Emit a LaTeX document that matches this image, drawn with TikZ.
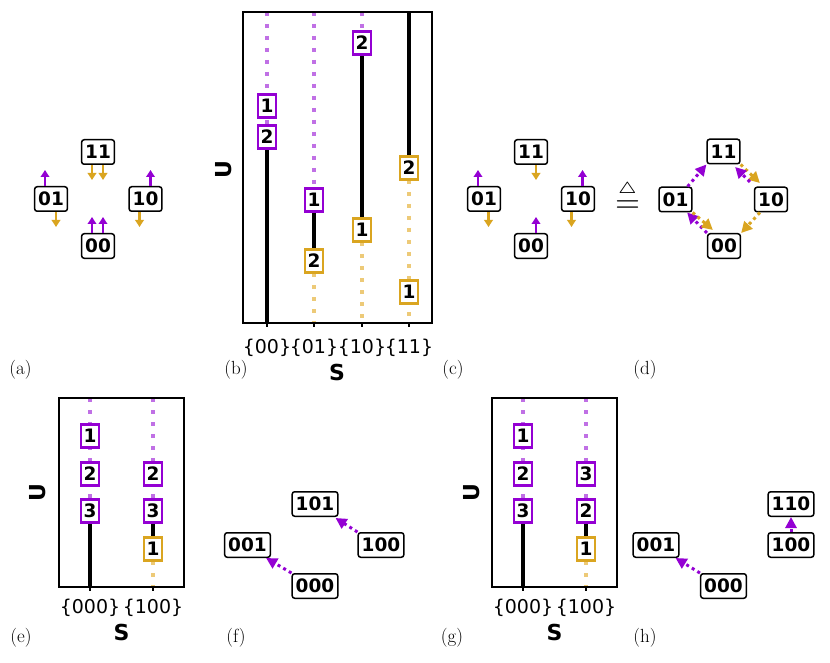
\documentclass[tikz,border=0pt]{standalone}
\usepackage{amssymb}
\usepackage{graphicx}
\usepackage{fontspec}
\usetikzlibrary{arrows.meta,calc}
\newfontfamily\dvfont{DejaVu Sans}
\definecolor{pur}{HTML}{9400D3}
\definecolor{org}{HTML}{DAA520}
\definecolor{lpur}{HTML}{C070E5}
\definecolor{lorg}{HTML}{EDCA78}
\pgfdeclarelayer{back}
\pgfdeclarelayer{bg}
\pgfsetlayers{back,bg,main}
\begin{document}
\begin{tikzpicture}[x=1pt,y=-1pt,
  state/.style={draw, rounded corners=2.5pt, line width=1.5pt, fill=white, minimum height=24.5pt, inner xsep=3.5pt, inner ysep=0pt, font=\dvfont\bfseries\fontsize{18.5}{18.5}\selectfont},
  nbox/.style={draw=#1, line width=2.8pt, fill=white, minimum width=18pt, minimum height=23pt, inner sep=0pt, font=\dvfont\bfseries\fontsize{18.5}{18.5}\selectfont},
  parr/.style={pur, line width=2.8pt, -{Triangle[length=7pt,width=8.5pt]}},
  oarr/.style={org, line width=2.8pt, -{Triangle[length=7pt,width=8.5pt]}},
  pconn/.style={pur, line width=3pt, dash pattern=on 3pt off 3.5pt, -{Triangle[length=11pt,width=11pt]}},
  oconn/.style={org, line width=3pt, dash pattern=on 3pt off 3.5pt, -{Triangle[length=11pt,width=11pt]}},
  blk/.style={line width=4pt, black},
  pdl/.style={lpur, line width=4pt, dash pattern=on 4pt off 8pt},
  odl/.style={lorg, line width=4pt, dash pattern=on 4pt off 8pt},
  frame/.style={line width=1.2pt, black},
  ticklab/.style={font=\dvfont\fontsize{19}{19}\selectfont},
  axlab/.style={font=\dvfont\bfseries\fontsize{22}{22}\selectfont},
  plab/.style={font=\fontsize{19}{20}\selectfont}
]
\useasboundingbox (0,0) rectangle (830,663);
\begin{pgfonlayer}{back}
\fill[white] (0,0) rectangle (830,663);
\end{pgfonlayer}

% ---------- (a)
\node[state] (a11) at (98,152) {11};
\node[state] (a01) at (51,199) {01};
\node[state] (a10) at (145.5,199) {10};
\node[state] (a00) at (98,246) {00};
\draw[oarr] ([xshift=-6pt]a11.south) -- ++(0,15);
\draw[oarr] ([xshift=5pt]a11.south) -- ++(0,15);
\draw[parr] ([xshift=-6pt]a00.north) -- ++(0,-16);
\draw[parr] ([xshift=5pt]a00.north) -- ++(0,-16);
\draw[parr] ([xshift=-6pt]a01.north) -- ++(0,-16);
\draw[oarr] ([xshift=5pt]a01.south) -- ++(0,15);
\draw[parr] ([xshift=5pt]a10.north) -- ++(0,-16);
\draw[oarr] ([xshift=-6pt]a10.south) -- ++(0,15);
\node[plab] (la) at (20.5,370) {(a)};

% ---------- (b)
\draw[frame] (243,12) rectangle (432,323);
\foreach \x in {267,314,362,409} \draw[frame] (\x,323) -- ++(0,3.5);
\coordinate (b0t) at (267,12); \coordinate (b0b) at (267,323);
\coordinate (b1t) at (314,12); \coordinate (b1b) at (314,323);
\coordinate (b2t) at (362,12); \coordinate (b2b) at (362,323);
\coordinate (b3t) at (409,12); \coordinate (b3b) at (409,323);
\node[nbox=pur] (b0p1) at (267,106) {1};
\node[nbox=pur] (b0p2) at (267,137) {2};
\node[nbox=pur] (b1p1) at (314,200) {1};
\node[nbox=org] (b1o2) at (314,261) {2};
\node[nbox=pur] (b2p2) at (362,43) {2};
\node[nbox=org] (b2o1) at (362,230) {1};
\node[nbox=org] (b3o2) at (409,168) {2};
\node[nbox=org] (b3o1) at (409,292) {1};
\begin{pgfonlayer}{bg}
\draw[pdl] (b0t) -- (b0p2.center);
\draw[blk] (b0p2.center) -- (b0b);
\draw[pdl] (b1t) -- (b1p1.center);
\draw[blk] (b1p1.center) -- (b1o2.center);
\draw[odl] (b1o2.center) -- (b1b);
\draw[pdl] (b2t) -- (b2p2.center);
\draw[blk] (b2p2.center) -- (b2o1.center);
\draw[odl] (b2o1.center) -- (b2b);
\draw[blk] (b3t) -- (b3o2.center);
\draw[odl] (b3o2.center) -- (b3b);
\end{pgfonlayer}
\node[ticklab] (tb0) at (267,348) {\{00\}};
\node[ticklab] (tb1) at (314,348) {\{01\}};
\node[ticklab] (tb2) at (362,348) {\{10\}};
\node[ticklab] (tb3) at (409,348) {\{11\}};
\node[axlab] (bS) at (337,372) {S};
\node[axlab, rotate=90] (bU) at (224,170) {U};
\node[plab] (lb) at (236,370) {(b)};

% ---------- (c)
\node[state] (c11) at (531,152) {11};
\node[state] (c01) at (484,199) {01};
\node[state] (c10) at (578,199) {10};
\node[state] (c00) at (531,246) {00};
\draw[oarr] ([xshift=5pt]c11.south) -- ++(0,15);
\draw[parr] ([xshift=5pt]c00.north) -- ++(0,-16);
\draw[parr] ([xshift=-6pt]c01.north) -- ++(0,-16);
\draw[oarr] ([xshift=4.5pt]c01.south) -- ++(0,15);
\draw[parr] ([xshift=4.5pt]c10.north) -- ++(0,-16);
\draw[oarr] ([xshift=-6.5pt]c10.south) -- ++(0,15);
\node[inner sep=0pt] (eq) at (627.5,196) {\resizebox{25pt}{!}{$\stackrel{\scriptscriptstyle\triangle}{=}$}};
\node[plab] (lc) at (453,370) {(c)};

% ---------- (d)
\node[state] (d11) at (723.5,151.5) {11};
\node[state] (d01) at (675.5,199.5) {01};
\node[state] (d10) at (771,199.5) {10};
\node[state] (d00) at (724,246) {00};
\draw[pconn] ([xshift=-5pt]d01.north east) -- (d11.south west);
\draw[oconn] (d11.south east) -- ([xshift=6pt,yshift=3.5pt]d10.north west);
\draw[pconn] ([xshift=-4pt,yshift=4.5pt]d10.north west) -- ([xshift=-5.5pt,yshift=-2.5pt]d11.south east);
\draw[oconn] ([xshift=6pt]d10.south west) -- (d00.north east);
\draw[pconn] (d00.north west) -- ([xshift=-5.5pt]d01.south east);
\draw[oconn] (d01.south east) -- ([xshift=6pt,yshift=3pt]d00.north west);
\node[plab] (ld) at (645,370) {(d)};

% ---------- (e)
\draw[frame] (59,398) rectangle (184,587);
\foreach \x in {90,153} \draw[frame] (\x,587) -- ++(0,3.5);
\coordinate (e0t) at (90,398); \coordinate (e0b) at (90,587);
\coordinate (e1t) at (153,398); \coordinate (e1b) at (153,587);
\node[nbox=pur] (e0p1) at (90,436) {1};
\node[nbox=pur] (e0p2) at (90,474) {2};
\node[nbox=pur] (e0p3) at (90,511) {3};
\node[nbox=pur] (e1p2) at (153,474) {2};
\node[nbox=pur] (e1p3) at (153,511) {3};
\node[nbox=org] (e1o1) at (153,549) {1};
\begin{pgfonlayer}{bg}
\draw[pdl] (e0t) -- (e0p3.center);
\draw[blk] (e0p3.center) -- (e0b);
\draw[pdl] (e1t) -- (e1p3.center);
\draw[blk] (e1p3.center) -- (e1o1.center);
\draw[odl] (e1o1.center) -- (e1b);
\end{pgfonlayer}
\node[ticklab] (te0) at (90,608) {\{000\}};
\node[ticklab] (te1) at (153,608) {\{100\}};
\node[axlab] (eS) at (121.5,632) {S};
\node[axlab, rotate=90] (eU) at (38,493) {U};
\node[plab] (le) at (21,638) {(e)};

% ---------- (f)
\node[state] (f101) at (315,504) {101};
\node[state] (f001) at (247.5,545) {001};
\node[state] (f100) at (381,545) {100};
\node[state] (f000) at (315,586) {000};
\draw[pconn] (f100.north west) -- ([xshift=-3pt,yshift=-1pt]f101.south east);
\draw[pconn] (f000.north west) -- ([xshift=-5pt]f001.south east);
\node[plab] (lf) at (236,638) {(f)};

% ---------- (g)
\draw[frame] (492,398) rectangle (617,587);
\foreach \x in {523,586} \draw[frame] (\x,587) -- ++(0,3.5);
\coordinate (g0t) at (523,398); \coordinate (g0b) at (523,587);
\coordinate (g1t) at (586,398); \coordinate (g1b) at (586,587);
\node[nbox=pur] (g0p1) at (523,436) {1};
\node[nbox=pur] (g0p2) at (523,474) {2};
\node[nbox=pur] (g0p3) at (523,511) {3};
\node[nbox=pur] (g1p3) at (586,474) {3};
\node[nbox=pur] (g1p2) at (586,511) {2};
\node[nbox=org] (g1o1) at (586,549) {1};
\begin{pgfonlayer}{bg}
\draw[pdl] (g0t) -- (g0p3.center);
\draw[blk] (g0p3.center) -- (g0b);
\draw[pdl] (g1t) -- (g1p2.center);
\draw[blk] (g1p2.center) -- (g1o1.center);
\draw[odl] (g1o1.center) -- (g1b);
\end{pgfonlayer}
\node[ticklab] (tg0) at (523,608) {\{000\}};
\node[ticklab] (tg1) at (586,608) {\{100\}};
\node[axlab] (gS) at (554.5,632) {S};
\node[axlab, rotate=90] (gU) at (472,493) {U};
\node[plab] (lg) at (452,638) {(g)};

% ---------- (h)
\node[state] (h110) at (791,504) {110};
\node[state] (h100) at (791,545) {100};
\node[state] (h001) at (656,545) {001};
\node[state] (h000) at (723.5,586) {000};
\draw[pconn] (h100.north) -- (h110.south);
\draw[pconn] (h000.north west) -- ([xshift=-4pt]h001.south east);
\node[plab] (lh) at (645,638) {(h)};
\end{tikzpicture}
\end{document}
